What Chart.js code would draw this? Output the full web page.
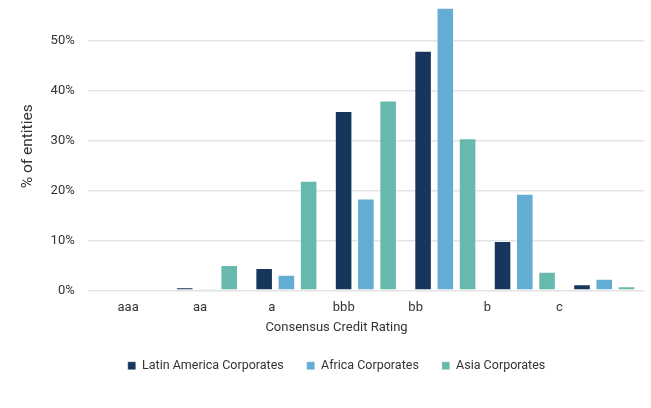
<!DOCTYPE html>
<html>
<head>
<meta charset="utf-8">
<script src="https://cdn.jsdelivr.net/npm/chart.js@4"></script>
<style>
    html, body { margin: 0; padding: 0; background: #fff; }
    #wrap { width: 651px; height: 408px; }
</style>
</head>
<body>
<div id="wrap"><canvas id="ratingChart"></canvas></div>
<script>
const ratings = ['aaa', 'aa', 'a', 'bbb', 'bb', 'b', 'c'];
const seriesNames = ['Latin America Corporates', 'Africa Corporates', 'Asia Corporates'];
const latinAmerica = [0, 0.6, 4.5, 36.0, 48.1, 9.9, 1.2];
const africa = [0, 0.3, 3.1, 18.4, 56.7, 19.4, 2.3];
const asia = [0, 5.1, 22.0, 38.1, 30.5, 3.7, 0.8];
const yTicks = [0, 10, 20, 30, 40, 50];

const colors = ['#17365d', '#63acd4', '#67b9ae'];
const textColor = '#333';
const font = 'Roboto';

const ctx = document.getElementById('ratingChart').getContext('2d');
const ratingChart = new Chart(ctx, {
    type: 'bar',
    data: {
        labels: ratings,
        datasets: [latinAmerica, africa, asia].map((values, i) => ({
            label: seriesNames[i],
            data: values,
            backgroundColor: colors[i],
            borderColor: 'rgba(255, 255, 255, 0.35)',
            borderWidth: 1,
            categoryPercentage: 0.84,
            barPercentage: 0.79
        }))
    },
    options: {
        responsive: true,
        maintainAspectRatio: false,
        animation: false,
        layout: {
            padding: { left: 29, right: 7, top: 0, bottom: 26 }
        },
        scales: {
            x: {
                display: false
            },
            // rating names sit on their own axis
            xl: {
                type: 'linear',
                position: 'bottom',
                offset: false,
                min: -0.562,
                max: 7.177,
                afterBuildTicks: axis => {
                    axis.ticks = ratings.map((r, i) => ({ value: i }));
                },
                grid: { display: false, drawTicks: false },
                border: { display: false },
                ticks: {
                    padding: 10,
                    color: textColor,
                    font: { family: font, size: 13 },
                    callback: value => ratings[value]
                }
            },
            y: {
                min: 0,
                max: 57.8,
                afterBuildTicks: axis => {
                    axis.ticks = yTicks.map(v => ({ value: v }));
                },
                grid: {
                    color: '#e4e4e4',
                    lineWidth: 1.5,
                    tickLength: 12,
                    tickColor: 'transparent'
                },
                border: { display: false },
                ticks: {
                    padding: 1,
                    color: textColor,
                    font: { family: font, size: 13, lineHeight: 0.2 },
                    callback: value => value + '%'
                },
                title: {
                    display: true,
                    text: '% of entities',
                    color: textColor,
                    font: { family: font, size: 15.5 },
                    padding: { top: -10.5, bottom: 12.5 }
                }
            }
        },
        plugins: {
            title: {
                display: true,
                text: 'Consensus Credit Rating',
                position: 'bottom',
                weight: 500,
                color: textColor,
                font: { family: font, size: 13, weight: 'normal' },
                padding: { top: -6, bottom: 1 }
            },
            legend: {
                position: 'bottom',
                labels: {
                    boxWidth: 8,
                    boxHeight: 8,
                    padding: 23,
                    color: textColor,
                    font: { family: font, size: 12.5 }
                }
            },
            tooltip: { enabled: false }
        }
    }
});
</script>
</body>
</html>
